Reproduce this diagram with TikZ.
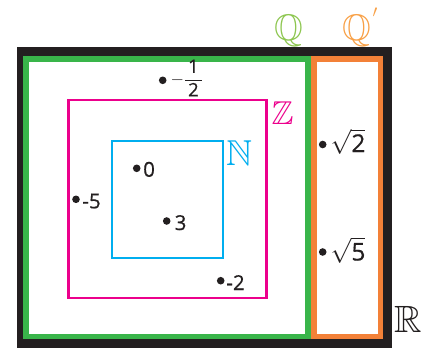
\documentclass[tikz,border=0pt]{standalone}
\usepackage{amssymb}
\usepackage{fontspec}
\setmainfont{Open Sans}[FakeBold=0.5]
\definecolor{blk}{RGB}{35,31,32}
\definecolor{grn}{RGB}{57,181,74}
\definecolor{org}{RGB}{243,129,56}
\definecolor{mag}{RGB}{236,0,140}
\definecolor{cyn}{RGB}{0,174,239}
\definecolor{lgrn}{RGB}{141,198,80}
\definecolor{lorg}{RGB}{248,160,70}
\tikzset{
  dot/.style={circle,fill=blk,inner sep=0pt,minimum size=7.6pt},
  lab/.style={inner sep=0pt,anchor=base west,text=blk,font=\fontsize{20.5}{24}\selectfont},
  rootlab/.style={inner sep=0pt,anchor=base west,text=blk,font=\fontsize{24.5}{28}\selectfont},
  fraclab/.style={inner sep=0pt,anchor=base west,text=blk,font=\fontsize{18.5}{22}\selectfont},
  setlab/.style={inner sep=0pt,anchor=base},
}
\begin{document}
\begin{tikzpicture}[x=1pt,y=-1pt]
\useasboundingbox (0,0) rectangle (432,351);
% outer R box
\fill[blk] (16.5,46.5) rectangle (392,348);
\fill[white] (23.3,56) rectangle (383,339.3);
% Q and Q' boxes
\draw[grn,line width=5.6pt] (26.2,59) rectangle (308,336.6);
\draw[org,line width=5.5pt] (314.2,59) rectangle (380.5,336.6);
% Z and N boxes
\draw[mag,line width=2.2pt] (68.5,100.3) rectangle (266.5,298);
\draw[cyn,line width=2.3pt] (112,141.2) rectangle (222.7,257.7);
% set labels
\node[setlab,text=lgrn,font=\fontsize{37}{40}\selectfont] (lQ) at (288.5,40) {$\mathbb{Q}$};
\node[setlab,text=lorg,font=\fontsize{37}{40}\selectfont] (lQp) at (356.7,40) {$\mathbb{Q}\rlap{\hspace{1.5pt}\smash{\raisebox{13pt}{$^{\scriptscriptstyle\prime}$}}}$};
\node[setlab,text=mag,font=\fontsize{33}{36}\selectfont] (lZ) at (282.5,124.3) {$\mathbb{Z}$};
\node[setlab,text=cyn,font=\fontsize{36}{40}\selectfont] (lN) at (239.2,165) {$\mathbb{N}$};
\node[setlab,text=blk,font=\fontsize{38}{42}\selectfont] (lR) at (408.5,332.7) {$\mathbb{R}$};
% points
\node[dot] (dh) at (162.7,80.3) {};
\node[fraclab] (th) at (170.3,84.5) {$\displaystyle-\frac{\mbox{\hspace{3pt}1\hspace{3pt}}}{\mbox{\hspace{3pt}2\hspace{3pt}}}$};
\node[dot] (d0) at (136.7,168.3) {};
\node[lab] (t0) at (143,176.7) {0};
\node[dot] (dm5) at (76,199.3) {};
\node[lab] (tm5) at (82.2,208.3) {-5};
\node[dot] (d3) at (166.7,221) {};
\node[lab] (t3) at (174.5,230) {3};
\node[dot] (dm2) at (220.7,280.7) {};
\node[lab] (tm2) at (226.2,290) {-2};
\node[dot] (ds2) at (322.7,144.5) {};
\node[rootlab] (ts2) at (330.5,152) {$\sqrt{\mbox{2}}$};
\node[dot] (ds5) at (322.7,252) {};
\node[rootlab] (ts5) at (330.5,260.5) {$\sqrt{\mbox{5}}$};
\end{tikzpicture}
\end{document}
